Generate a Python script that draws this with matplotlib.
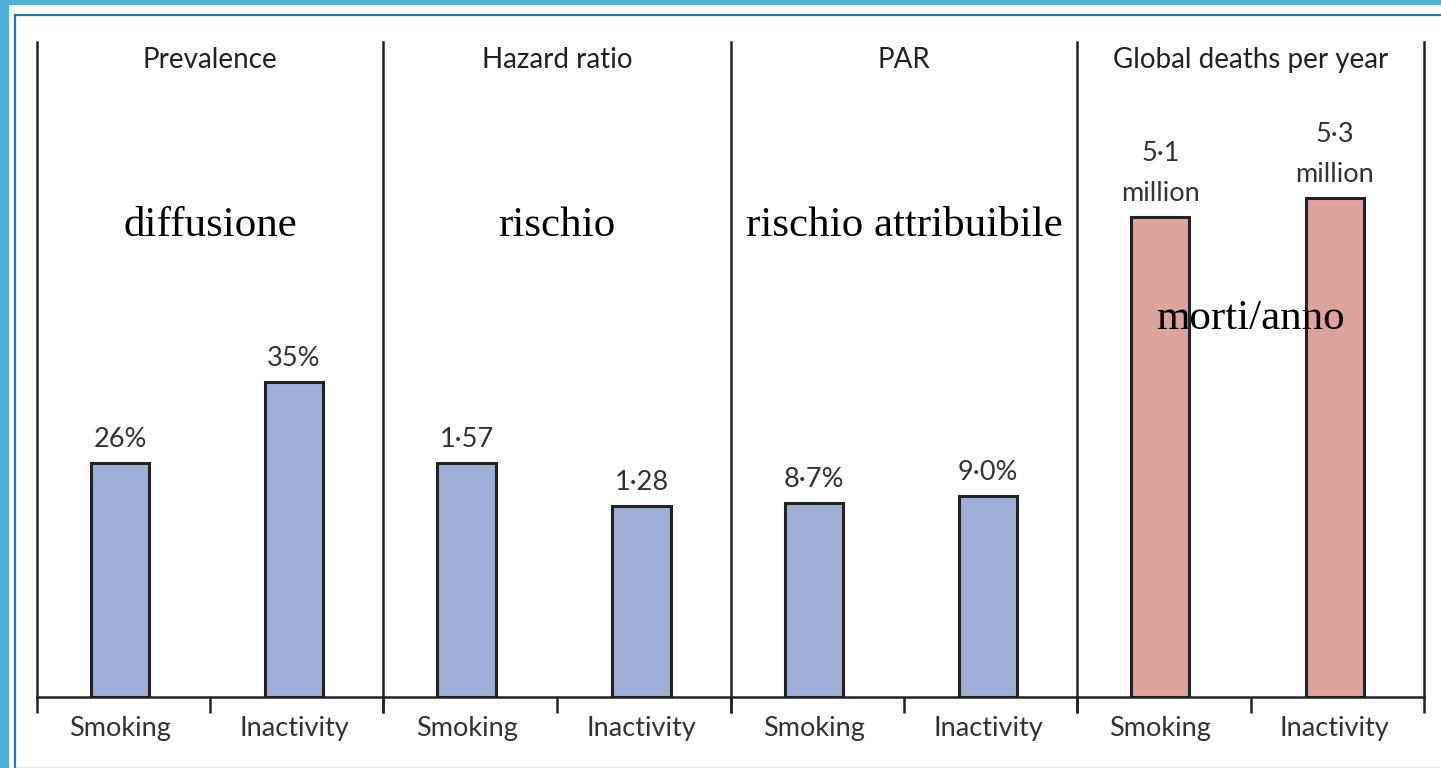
import matplotlib.pyplot as plt
from matplotlib.patches import Rectangle
from matplotlib.lines import Line2D

# four measures, each with its own vertical scale
categories = ["Smoking", "Inactivity"]
headers = ["Prevalence", "Hazard ratio", "PAR", "Global deaths per year"]
captions = ["diffusione", "rischio", "rischio attribuibile", "morti/anno"]
prevalence = [26, 35]
hazard_ratio = [1.57, 1.28]
par = [8.7, 9.0]
deaths = [5.1, 5.3]
bar_labels = [["26%", "35%"], ["1·57", "1·28"], ["8·7%", "9·0%"],
              ["5·1\nmillion", "5·3\nmillion"]]
series = [prevalence, hazard_ratio, par, deaths]
ymax = [72.8, 4.40, 29.4, 6.96]

blue = "#9dafd6"
red = "#dfa39e"
ink = "#222222"
sans = "Lato"
serif = "Liberation Serif"

W, H = 1441, 768
fig = plt.figure(figsize=(W / 100, H / 100), dpi=100)

# slide frame: blue strip on the left / top, thin rule inside it
fig.patches.append(Rectangle((0, 0), 1, 1, transform=fig.transFigure,
                             facecolor="#4eb0d9", edgecolor="none", zorder=-3))
fig.patches.append(Rectangle((8.5 / W, 0), 1, 1 - 4.5 / H, transform=fig.transFigure,
                             facecolor="white", edgecolor="none", zorder=-2))
fig.lines.append(Line2D([14.5 / W, 14.5 / W], [0, 1 - 15 / H], transform=fig.transFigure,
                        color="#2f74bb", lw=1.6))
fig.lines.append(Line2D([14.5 / W, 1], [1 - 15 / H, 1 - 15 / H], transform=fig.transFigure,
                        color="#2f74bb", lw=1.6))
fig.lines.append(Line2D([16 / W, 1], [1.2 / H, 1.2 / H], transform=fig.transFigure,
                        color="#e6e6e6", lw=1.0))

edges = [37, 383, 731, 1077, 1424]
top, base = 42, 697
positions = [0.96, 2.97]

for i in range(4):
    x0, x1 = edges[i], edges[i + 1]
    ax = fig.add_axes([x0 / W, (H - base) / H, (x1 - x0) / W, (base - top) / H])
    ax.set_facecolor("none")
    color = red if i == 3 else blue
    bars = ax.bar(positions, series[i], width=0.67, color=color,
                  edgecolor=ink, linewidth=2.2, zorder=2)
    for b, lab in zip(bars, bar_labels[i]):
        ax.annotate(lab, (b.get_x() + b.get_width() / 2, b.get_height()),
                    xytext=(0, 8), textcoords="offset points", ha="center",
                    va="bottom", fontsize=19.5, family=sans, color="#333333",
                    linespacing=1.75)
    ax.set_xlim(0, 4)
    ax.set_ylim(0, ymax[i])

    for s in ["top", "right"]:
        ax.spines[s].set_visible(False)
    if i == 3:
        ax.spines["right"].set_visible(True)
    for s in ["left", "right", "bottom"]:
        ax.spines[s].set_linewidth(1.8)
        ax.spines[s].set_color(ink)
    ax.set_yticks([])
    ax.set_xticks([0, 2, 4])
    ax.set_xticklabels([])
    ax.tick_params(axis="x", which="major", length=11.5, width=1.8, color=ink)
    ax.set_xticks(positions, minor=True)
    ax.set_xticklabels(categories, minor=True, fontsize=19.5, family=sans,
                       color="#333333")
    ax.tick_params(axis="x", which="minor", length=0, pad=14)

    ax.text(0.5, 0.972, headers[i], transform=ax.transAxes, ha="center",
            va="center", fontsize=20, family=sans, color="#222222")
    cy = 0.578 if i == 3 else 0.719
    ax.text(0.5, cy, captions[i], transform=ax.transAxes, ha="center",
            va="center", fontsize=31, family=serif, color="black", zorder=5)

fig.savefig("out.png", dpi=100)
